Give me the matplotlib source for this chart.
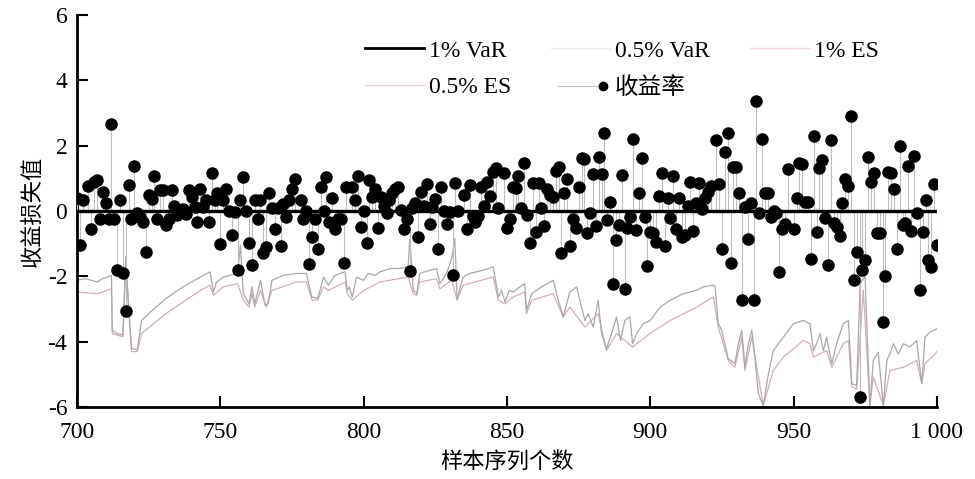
import numpy as np
import matplotlib
matplotlib.use("Agg")
import matplotlib.pyplot as plt
from matplotlib.lines import Line2D
from matplotlib.legend_handler import HandlerLine2D

plt.rcParams['font.family'] = ['Liberation Serif', 'Noto Sans CJK SC']
plt.rcParams['axes.unicode_minus'] = False

# returns (sample index, value)
ret_x = [700, 701, 702, 704, 705, 706, 707, 708, 709, 710, 711, 712, 713, 714, 715,
         716, 717, 718, 719, 720, 721, 722, 723, 724, 725, 726, 727, 728, 729, 730,
         731, 732, 733, 734, 735, 736, 737, 738, 739, 740, 741, 742, 743, 744, 745,
         746, 747, 748, 749, 750, 751, 752, 753, 754, 755, 756, 757, 758, 759, 760,
         761, 762, 763, 764, 765, 766, 767, 768, 769, 770, 771, 772, 773, 774, 775,
         776, 778, 779, 780, 781, 782, 783, 784, 785, 786, 787, 788, 789, 790, 791,
         792, 793, 794,
         796, 797, 798, 799, 800, 801, 802, 803, 804, 805, 806, 807, 808, 809, 810,
         811, 812, 813, 814, 815, 816, 817, 818, 819, 820, 821, 822, 823, 824, 825,
         826, 827, 828, 829, 830, 831, 832, 833, 835, 836, 837, 838, 839, 840, 841,
         842, 843, 844, 845, 846, 847, 849, 850, 851, 852, 853, 854, 855, 856, 857,
         858, 859, 860, 861, 862, 863, 864, 865, 866, 867, 868, 869, 870, 871, 872,
         873, 874, 875, 876, 877, 878, 879, 880, 881, 882, 883, 884, 885, 886, 887,
         888, 889, 890, 891, 892, 893, 894, 895, 896, 897, 898, 899, 900,
         901, 902, 903, 904, 905, 906, 907, 908, 909, 910, 911, 912, 913, 914, 915,
         916, 917, 918, 919, 920, 921, 923, 924, 925, 926, 927, 928, 929, 930, 931,
         932, 933, 934, 935, 936, 937, 938, 939, 940, 941, 942, 943, 944, 945, 946,
         947, 948, 950, 951, 952, 953, 954, 955, 956, 957, 958, 959, 960, 961, 962,
         963, 964, 965, 966, 967, 968, 969, 970, 971, 972, 973, 974, 975, 976, 977,
         978, 979, 980, 981, 982, 983, 984, 985, 986, 987, 988, 989, 990, 991, 992,
         993, 994, 995, 996, 997, 998, 999, 1000]
ret_y = [0.39, -1.04, 0.33, 0.77, -0.56, 0.9, 0.95, -0.26, 0.59, 0.23, -0.26, 2.67, -0.26, -1.81, 0.34,
         -1.89, -3.07, 0.8, -0.26, 1.38, -0.07, -0.17, -0.33, -1.25, 0.49, 0.36, 1.06, -0.26, 0.64, 0.64,
         -0.43, -0.26, 0.64, 0.15, -0.13, -0.03, 0.05, -0.1, 0.64, 0.44, 0.13, -0.33, 0.66, 0.13, 0.34,
         -0.33, 1.17, 0.34, 0.56, -1.01, 0.34, 0.66, 0.0, -0.74, -0.03, -1.81, 0.34, 1.05, 0.0, -0.97,
         -1.66, 0.34, -0.26, 0.34, -1.3, -1.1, 0.56, 0.1, -0.54, 0.1, -1.08, 0.22, -0.17, 0.34, 0.66,
         0.97, 0.34, -0.26, 0.0, -1.61, -0.79, -0.24, -1.15, 0.72, 0.0, 1.05, -0.33, 0.4, -0.54, -0.24,
         -0.24, -1.58, 0.72,
         0.73, 0.34, 1.07, -0.48, 0.0, -0.97, 0.95, 0.44, 0.66, -0.53, 0.44, 0.15, -0.05, 0.34, 0.54,
         0.66, 0.72, 0.03, -0.56, -0.23, -1.83, 0.1, 0.25, -0.79, 0.57, 0.15, 0.83, -0.4, 0.13, 0.36,
         -1.15, 0.72, 0.01, -0.4, -0.03, -1.96, 0.85, 0.01, 0.49, -0.56, 0.8, -0.14, -0.35, -0.14, 0.72,
         0.15, 0.9, 0.46, 1.2, 1.31, 0.08, 1.17, -0.53, -0.23, 0.73, 0.7, 1.07, 0.08, 1.48, -0.13,
         -0.97, 0.86, -0.64, 0.85, 0.08, -0.46, 0.66, 0.49, 0.42, 1.23, 1.36, -1.28, 0.54, 0.97, -1.08,
         -0.23, -0.53, 0.73, 1.61, 1.58, -0.67, -0.07, 1.13, -0.46, 1.65, 1.13, 2.38, -0.27, 0.26, -2.22,
         -0.89, -0.43, 1.1, -2.4, -0.53, -0.17, 2.2, -0.58, 0.56, 1.62, -0.17, -1.69, -0.64,
         -0.68, -0.94, 0.46, 1.16, -1.07, 0.39, -0.22, 1.08, -0.56, 0.39, -0.8, -0.74, 0.15, 0.9, -0.6,
         0.25, 0.87, 0.05, 0.39, 0.59, 0.75, 2.16, 0.83, -1.15, 1.79, 2.38, -1.58, 1.36, 1.34, 0.54,
         -2.71, 0.13, -0.87, 0.23, -2.71, 3.38, -0.07, 2.2, 0.56, 0.54, -0.18, 0.01, -0.05, -1.86, -0.56,
         -0.4, 1.27, -0.56, 0.39, 1.48, 1.44, 0.29, 0.29, -1.46, 2.3, -0.64, 1.31, 1.57, -0.2, -1.66,
         2.16, -0.36, -0.48, -0.77, 0.25, 0.97, 0.75, 2.9, -2.1, -1.25, -5.68, -1.79, -1.5, 1.65, 0.9,
         1.15, -0.67, -0.67, -3.4, -2.0, 1.2, 1.15, 0.66, -1.15, 2.0, -0.43, -0.38, 1.38, -0.6, 1.67,
         -0.07, -2.42, -0.63, 0.34, -1.49, -1.71, 0.83, -1.05]

# 0.5% VaR curve (upper, gray), breakpoints
var_x = [700, 703, 707, 709, 712, 712.3, 714, 716, 717, 718, 719, 721, 722.5, 725.5, 731,
         737, 743, 746.4, 747.6, 748.7, 751, 756, 757, 758, 760, 761, 762, 764, 765.6, 766.7,
         768, 772, 776.6, 780, 781.9, 784, 786, 787.7, 790, 793.5, 794.3,
         795, 796, 797.5, 799.9, 801.6, 803.9, 805.7, 809.2, 812.6, 815.5, 816.1, 817.3, 818.5, 819.6,
         823.1, 825.4, 826.6, 828.9, 830.7, 831.8, 832.6, 834.7, 837, 841.7, 845.2, 847, 848.1, 849.3,
         850.8, 852.2, 854.5, 856.2, 856.8, 858.6, 862, 866.1, 867.9, 869.6, 871.9, 874.3, 875.4, 877.2,
         878.3, 880.1, 881.8, 883, 884.7, 886.5, 888.2, 889.6, 891.1, 892.9, 893.8, 895.2, 897.5, 899.9,
         903.4, 906.9, 911.5, 916.2, 918.5, 922, 922.6, 923.7, 924.9, 927.2, 929.5, 930.7, 931.9, 933,
         934.2, 935.4, 936, 937.7, 939.4, 941.2, 942.9, 946.4, 949.9, 953.4, 955.7, 956.9, 958, 959.2,
         960.4, 961.5, 963.3, 965, 967.3, 969.1, 970.3, 972, 973.2, 974.9, 976.6, 977.8, 979.5, 981.3,
         982.5, 983.6, 984.8, 986.5, 988.3, 990.6, 992.9, 994.7, 995.8, 997.6, 999.3, 1000]
var_y = [-2.12, -2.07, -2.17, -2.07, -1.97, -3.65, -3.75, -3.8, -1.4, -2.93, -4.2, -4.25, -3.35, -3.1, -2.68,
         -2.32, -2.02, -1.86, -2.48, -2.17, -2.02, -1.91, -1.04, -2.53, -2.84, -2.32, -2.84, -2.12, -2.88, -2.84,
         -2.12, -1.97, -1.91, -1.91, -2.63, -2.68, -2.02, -2.27, -1.97, -1.86, -2.43,
         -2.32, -2.63, -2.02, -2.12, -1.91, -1.97, -1.86, -1.76, -1.76, -1.71, -0.85, -2.42, -2.53, -1.91,
         -1.81, -1.76, -2.22, -1.91, -1.45, -0.84, -2.68, -2.02, -1.91, -1.81, -1.71, -2.63, -2.42, -2.78,
         -2.42, -2.48, -2.32, -2.22, -3.04, -2.53, -2.32, -2.12, -2.73, -3.24, -2.48, -2.32, -2.73, -3.35,
         -3.14, -3.55, -2.73, -3.75, -4.21, -3.75, -3.24, -3.96, -3.35, -3.24, -4.06, -3.75, -3.45, -3.35,
         -2.94, -2.73, -2.53, -2.42, -2.32, -2.27, -2.32, -3.44, -3.65, -4.52, -4.67, -4.06, -3.65, -4.78,
         -4.06, -3.65, -4.06, -5.59, -5.95, -4.98, -4.27, -3.86, -3.45, -3.35, -3.45, -4.27, -4.06, -3.75,
         -4.27, -3.86, -4.67, -4.06, -3.45, -3.35, -5.28, -5.34, -2.22, -2.0, -5.95, -4.57, -4.32, -5.95,
         -4.57, -4.37, -4.06, -4.37, -4.06, -4.16, -3.96, -5.28, -3.86, -3.7, -3.63, -3.6]

# 0.5% ES curve (lower, pink)
es_x = [700, 707, 712, 712.3, 716, 717, 719, 721, 722.5, 731, 743, 746.4, 747.6, 751, 756,
        758, 760, 761, 762, 764, 766, 768, 776.6, 780, 782, 784, 786, 787.7, 793.5, 794.3,
        796, 800, 805.7, 815.5, 817.3, 818.5, 819.6, 825.4, 826.6, 830.7, 832.6, 834.7, 845.2, 847,
        849.3, 852.2, 856.2, 856.8, 858.6, 866.1, 869.6, 871.9, 877.2, 881.8, 884.7, 888.2, 893.8, 899.9,
        906.9, 916.2, 922, 923.7, 927.2, 929.5, 931.9, 933, 935.4, 939.4, 942.9, 946.4, 953.4, 955.7,
        956.9, 961.5, 963.3, 967.3, 969.1, 970.3, 972, 974.3, 976.6, 977.8, 981.3, 983.6, 988.3, 992.9,
        994.7, 995.8, 999.3, 1000]
es_y = [-2.48, -2.53, -2.38, -3.75, -3.85, -1.6, -4.3, -4.3, -3.75, -3.14, -2.43, -2.27, -2.58, -2.32, -2.22,
        -2.73, -2.94, -2.53, -2.94, -2.43, -2.94, -2.43, -2.17, -2.17, -2.73, -2.73, -2.32, -2.43, -2.17, -2.53,
        -2.73, -2.43, -2.17, -2.02, -2.53, -2.58, -2.17, -2.07, -2.38, -2.12, -2.73, -2.27, -2.02, -2.73,
        -2.84, -2.63, -2.48, -3.14, -2.73, -2.53, -3.24, -2.94, -3.55, -3.14, -4.27, -3.75, -4.16, -3.75,
        -3.35, -2.94, -2.63, -3.55, -4.57, -4.78, -3.86, -4.88, -3.86, -5.95, -4.88, -4.47, -3.96, -4.06,
        -4.47, -4.27, -4.78, -4.06, -3.96, -5.38, -5.44, -2.42, -5.95, -5.08, -5.95, -4.88, -4.78, -4.57,
        -5.28, -4.67, -4.37, -4.3]

x_ticks = [700, 750, 800, 850, 900, 950, 1000]
x_tick_labels = ['700', '750', '800', '850', '900', '950', '1 000']
y_ticks = [-6, -4, -2, 0, 2, 4, 6]


class StemHandler(HandlerLine2D):
    # line with a single dot at its right end, like the stem legend key
    def create_artists(self, legend, orig_handle, xdescent, ydescent,
                       width, height, fontsize, trans):
        artists = super().create_artists(legend, orig_handle, xdescent, ydescent,
                                         width, height, fontsize, trans)
        for a in artists:
            n = len(a.get_xdata())
            a.set_markevery([n - 1])
        return artists


fig = plt.figure(figsize=(9.75, 4.79), dpi=100)
ax = fig.add_axes([0.079, 0.150, 0.882, 0.819])

ax.plot(var_x, var_y, color='#a8a8a8', lw=0.9, zorder=2)
ax.plot(es_x, es_y, color='#d2b0b0', lw=0.9, zorder=1)

ax.vlines(ret_x, 0, ret_y, color='#bdbdbd', lw=0.8, zorder=3)
ax.axhline(0, color='black', lw=2.4, zorder=4)
ax.plot(ret_x, ret_y, 'o', color='black', markersize=8, zorder=5)

ax.set_xlim(700, 1000)
ax.set_ylim(-6, 6)
ax.set_xticks(x_ticks)
ax.set_xticklabels(x_tick_labels)
ax.set_yticks(y_ticks)
ax.tick_params(direction='in', length=8, width=1.5, labelsize=17)
ax.tick_params(axis='x', pad=11)
ax.tick_params(axis='y', pad=7)
for s in ['top', 'right']:
    ax.spines[s].set_visible(False)
for s in ['left', 'bottom']:
    ax.spines[s].set_linewidth(2)

ax.set_xlabel('样本序列个数', fontsize=16, labelpad=6)
ax.set_ylabel('收益损失值', fontsize=16, labelpad=2)

stem_key = Line2D([], [], color='#bdbdbd', lw=0.8, marker='o', markersize=6,
                  mfc='black', mec='black')
handles = [
    Line2D([], [], color='black', lw=2),
    Line2D([], [], color='#f0d0d0', lw=1),
    Line2D([], [], color='#eeeaea', lw=1),
    stem_key,
    Line2D([], [], color='#f3dada', lw=1),
]
labels = ['1% VaR', '0.5% ES', '0.5% VaR', '收益率', '1% ES']
ax.legend(handles, labels, ncol=3, loc='upper left', bbox_to_anchor=(0.31, 0.99),
          frameon=False, fontsize=17, handlelength=2.5, handletextpad=0.2,
          columnspacing=1.7, labelspacing=0.65,
          handler_map={stem_key: StemHandler(numpoints=2)})

fig.savefig('out.png', dpi=100)
